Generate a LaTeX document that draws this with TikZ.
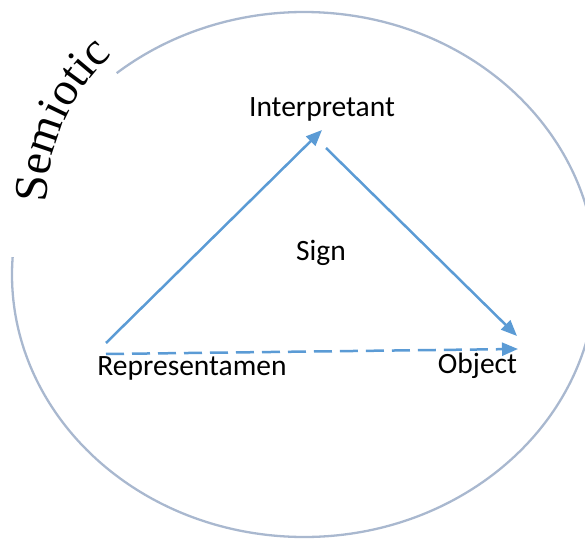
\documentclass[tikz,border=0pt]{standalone}
\usepackage{fontspec}
\setmainfont{Carlito}
\newfontfamily\semiserif{Liberation Serif}
\usetikzlibrary{arrows.meta,decorations.text}
\definecolor{ringcol}{HTML}{A9B8CF}
\definecolor{arrowblue}{HTML}{5B9BD5}
\begin{document}
\begin{tikzpicture}[x=1pt,y=1pt,
  lbl/.style={font=\fontsize{29.5}{33}\selectfont, anchor=base, inner sep=0pt},
  conn/.style={draw=arrowblue, line width=2.5pt, -{Triangle[length=16pt,width=13pt]}},
  ring/.style={draw=ringcol, line width=2.3pt}]
\useasboundingbox (0,0) rectangle (585,538);
\draw[ring] (304,263.5) ++(176.2:292pt and 262.5pt) arc[start angle=176.2, end angle=489.9, x radius=292pt, y radius=262.5pt];
\path[decorate, decoration={text along path, text={|\semiserif\fontsize{47}{50}\selectfont|Semiotic}}] (47,335) arc[start angle=180, end angle=120, radius=200pt];
\node[lbl] (interp) at (322,421) {Interpretant};
\node[lbl] (sign) at (321,277) {Sign};
\node[lbl] (repr) at (192,163) {Representamen};
\node[lbl] (obj) at (477.5,165) {Object};
\coordinate (r1) at (106,195);
\coordinate (i1) at (322,408);
\coordinate (i2) at (326,390);
\coordinate (o1) at (517,202);
\coordinate (r2) at (106,184);
\coordinate (o2) at (518,189);
\draw[conn] (r1) -- (i1);
\draw[conn] (i2) -- (o1);
\draw[conn, dash pattern=on 18pt off 8pt] (r2) -- (o2);
\end{tikzpicture}
\end{document}
